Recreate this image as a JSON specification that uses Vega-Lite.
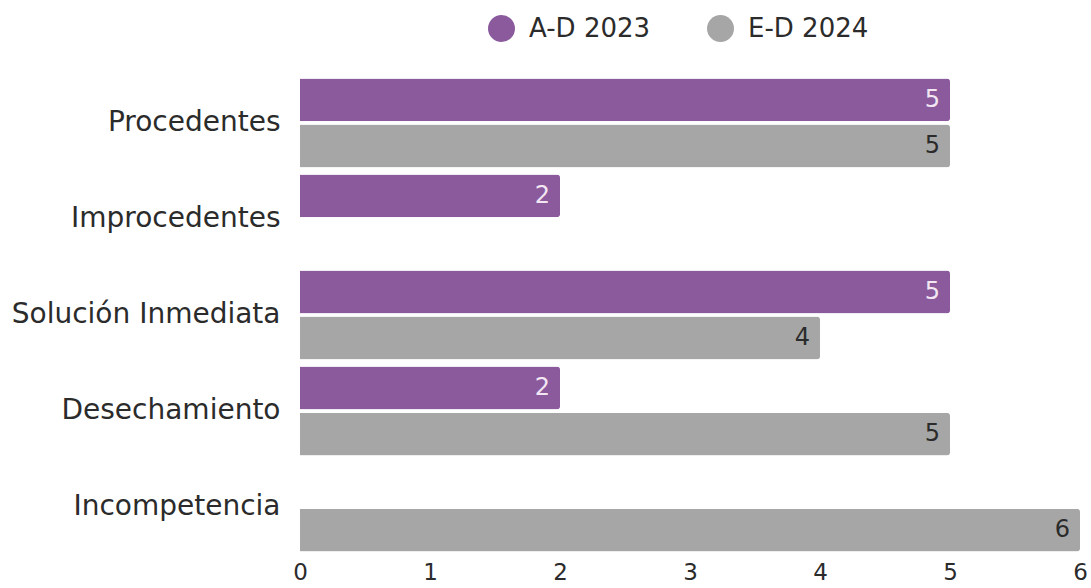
{
  "$schema": "https://vega.github.io/schema/vega-lite/v6.json",
  "width": 780,
  "height": 480,
  "autosize": {"type": "none"},
  "padding": {"left": 300, "top": 75, "right": 11, "bottom": 33},
  "background": "white",
  "config": {
    "view": {"stroke": null},
    "font": "DejaVu Sans"
  },
  "data": {
    "values": [
      {"categoria": "Procedentes", "serie": "A-D 2023", "valor": 5},
      {"categoria": "Procedentes", "serie": "E-D 2024", "valor": 5},
      {"categoria": "Improcedentes", "serie": "A-D 2023", "valor": 2},
      {"categoria": "Solución Inmediata", "serie": "A-D 2023", "valor": 5},
      {"categoria": "Solución Inmediata", "serie": "E-D 2024", "valor": 4},
      {"categoria": "Desechamiento", "serie": "A-D 2023", "valor": 2},
      {"categoria": "Desechamiento", "serie": "E-D 2024", "valor": 5},
      {"categoria": "Incompetencia", "serie": "E-D 2024", "valor": 6}
    ]
  },
  "encoding": {
    "y": {
      "field": "categoria",
      "type": "nominal",
      "sort": ["Procedentes", "Improcedentes", "Solución Inmediata", "Desechamiento", "Incompetencia"],
      "scale": {"paddingInner": 0.073, "paddingOuter": 0.036},
      "axis": {
        "title": null,
        "domain": false,
        "ticks": false,
        "labelFontSize": 28,
        "labelColor": "#2b2b2b",
        "labelPadding": 20,
        "labelLimit": 300,
        "labelFont": "DejaVu Sans"
      }
    },
    "yOffset": {
      "field": "serie",
      "type": "nominal",
      "sort": ["A-D 2023", "E-D 2024"],
      "scale": {"paddingInner": 0.07}
    },
    "x": {
      "field": "valor",
      "type": "quantitative",
      "scale": {"domain": [0, 6], "nice": false},
      "axis": {
        "title": null,
        "domain": false,
        "ticks": false,
        "grid": false,
        "values": [0, 1, 2, 3, 4, 5, 6],
        "labelFontSize": 23,
        "labelColor": "#2b2b2b",
        "labelPadding": 6,
        "labelFont": "DejaVu Sans",
        "labelFlush": false
      }
    }
  },
  "layer": [
    {
      "mark": {"type": "bar", "cornerRadiusEnd": 3},
      "encoding": {
        "color": {
          "field": "serie",
          "type": "nominal",
          "sort": ["A-D 2023", "E-D 2024"],
          "scale": {"domain": ["A-D 2023", "E-D 2024"], "range": ["#8A5A9D", "#A6A6A6"]},
          "legend": {
            "title": null,
            "orient": "none",
            "legendX": 188,
            "legendY": -60,
            "direction": "horizontal",
            "symbolType": "circle",
            "symbolSize": 729,
            "symbolStrokeWidth": 0,
            "labelFontSize": 26,
            "labelColor": "#2b2b2b",
            "labelFont": "DejaVu Sans",
            "labelOffset": 14,
            "columnPadding": 56
          }
        }
      }
    },
    {
      "mark": {"type": "text", "align": "right", "baseline": "middle", "dx": -10, "fontSize": 24, "font": "DejaVu Sans"},
      "encoding": {
        "text": {"field": "valor", "type": "quantitative"},
        "color": {
          "condition": {"test": "datum.serie === 'A-D 2023'", "value": "#F3E6F3"},
          "value": "#2b2b2b"
        }
      }
    }
  ]
}
